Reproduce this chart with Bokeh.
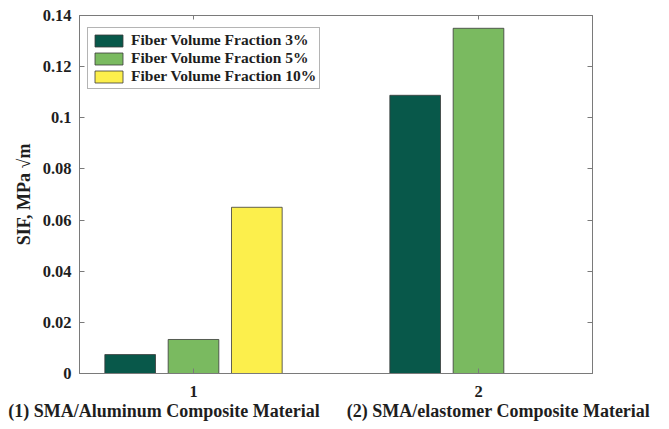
from bokeh.plotting import figure
from bokeh.models import (ColumnDataSource, FixedTicker, LinearAxis, Legend,
                          LegendItem, CustomJSTickFormatter, Range1d)
from bokeh.embed import file_html
from bokeh.resources import INLINE

# Stress intensity factor per composite and fiber volume fraction
groups = [1, 2]
group_names = ["(1) SMA/Aluminum Composite Material",
               "(2) SMA/elastomer Composite Material"]
series_names = ["Fiber Volume Fraction 3%",
                "Fiber Volume Fraction 5%",
                "Fiber Volume Fraction 10%"]
sif_3 = [0.0074, 0.1088]
sif_5 = [0.0133, 0.135]
sif_10 = [0.065, 0.0]
y_ticks = [0, 0.02, 0.04, 0.06, 0.08, 0.1, 0.12, 0.14]

colors = ["#08584a", "#7aba60", "#fcef4c"]
FONT = "Liberation Serif"
TEXT = "#1e1e1e"
AXIS = "#7a7a7a"

p = figure(width=669, height=429, output_backend="svg", toolbar_location=None,
           x_range=Range1d(0.6, 2.4), y_range=Range1d(0, 0.14),
           min_border_left=79, min_border_right=77,
           min_border_top=15, min_border_bottom=56)
p.background_fill_color = "white"
p.border_fill_color = "white"
p.grid.visible = False
p.outline_line_color = AXIS
p.outline_line_width = 1

# grouped bars: three slots per group
slot = 2.0 / 9.0
bar_w = slot * 0.8
items = []
for i, (vals, name, col) in enumerate(zip([sif_3, sif_5, sif_10], series_names, colors)):
    src = ColumnDataSource(dict(x=[g + (i - 1) * slot for g in groups], top=vals))
    r = p.vbar(x="x", top="top", bottom=0, width=bar_w, source=src,
               fill_color=col, line_color="#3a3a3a", line_width=0.8)
    items.append(LegendItem(label=name, renderers=[r]))

fmt = CustomJSTickFormatter(code="return tick.toFixed(2).replace(/\\.?0+$/, '');")
blank = CustomJSTickFormatter(code="return '';")

# axes: ticks inside, mirrored on top/right
for ax in (p.xaxis[0], p.yaxis[0]):
    ax.major_tick_in = 5
    ax.major_tick_out = 0
    ax.minor_tick_in = 0
    ax.minor_tick_out = 0
    ax.axis_line_color = AXIS
    ax.major_tick_line_color = AXIS
    ax.major_label_text_font = FONT
    ax.major_label_text_font_style = "bold"
    ax.major_label_text_font_size = "16.5px"
    ax.major_label_text_color = TEXT

p.xaxis.ticker = FixedTicker(ticks=groups)
p.xaxis.major_label_standoff = 12
gap = "\u00a0" * 6
p.xaxis.axis_label = group_names[0] + gap + group_names[1] + "\u00a0" * 3
p.xaxis.axis_label_text_font = FONT
p.xaxis.axis_label_text_font_style = "bold"
p.xaxis.axis_label_text_font_size = "18px"
p.xaxis.axis_label_text_color = TEXT
p.xaxis.axis_label_standoff = 1

p.yaxis.ticker = FixedTicker(ticks=y_ticks)
p.yaxis.formatter = fmt
p.yaxis.major_label_standoff = 8
p.yaxis.axis_label = "SIF, MPa \u221am"
p.yaxis.axis_label_text_font = FONT
p.yaxis.axis_label_text_font_style = "bold"
p.yaxis.axis_label_text_font_size = "18px"
p.yaxis.axis_label_text_color = TEXT
p.yaxis.axis_label_standoff = 6

top_ax = LinearAxis(ticker=FixedTicker(ticks=groups), formatter=blank,
                    major_tick_in=4, major_tick_out=0, minor_tick_in=0, minor_tick_out=0,
                    axis_line_color=AXIS, major_tick_line_color=AXIS)
right_ax = LinearAxis(ticker=FixedTicker(ticks=y_ticks), formatter=blank,
                      major_tick_in=5, major_tick_out=0, minor_tick_in=0, minor_tick_out=0,
                      axis_line_color=AXIS, major_tick_line_color=AXIS)
p.add_layout(top_ax, "above")
p.add_layout(right_ax, "right")

legend = Legend(items=items, location=(8, 284), glyph_width=35, glyph_height=15,
                label_height=15, spacing=0, padding=3, margin=0,
                label_standoff=5, label_text_font=FONT, label_text_font_style="bold",
                label_text_font_size="15.5px", label_text_color=TEXT,
                border_line_color="#6a6a6a", border_line_width=1,
                background_fill_alpha=1.0)
p.add_layout(legend, "center")

open("out.html", "w").write(file_html(p, INLINE))
